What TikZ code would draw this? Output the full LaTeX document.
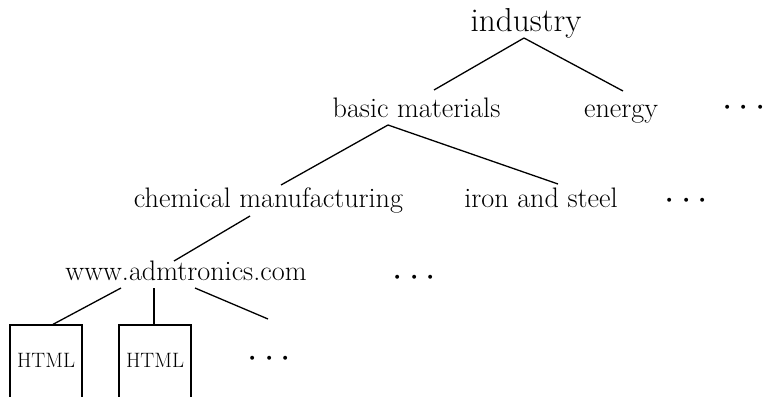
\RequirePackage{fix-cm}
\documentclass[tikz,border=0pt]{standalone}
\begin{document}
\begin{tikzpicture}[x=1pt,y=-1pt,line width=1.3pt,
  lbl/.style={inner sep=0pt,anchor=base,font=\fontsize{28.2}{32}\selectfont},
  toplbl/.style={lbl,font=\fontsize{33.2}{38}\selectfont},
  more/.style={inner sep=0pt,anchor=base,font=\fontsize{37}{40}\selectfont},
  page/.style={draw,rectangle,anchor=base,inner xsep=0pt,inner ysep=0pt,
    minimum width=72pt,text height=42pt,text depth=80pt,
    font=\fontsize{20.8}{24}\selectfont}]
\useasboundingbox (0,0) rectangle (765,396);
\begin{scope}
\clip (0,0) rectangle (765,396);
% nodes
\node[toplbl] (ind) at (526,32) {industry};
\node[lbl] (bm) at (416.5,117) {basic materials};
\node[lbl] (en) at (621,117) {energy};
\node[more] (d1) at (744,116.5) {$\cdots$};
\node[lbl] (chem) at (268.5,207) {chemical manufacturing};
\node[lbl] (iron) at (541,207) {iron and steel};
\node[more] (d2) at (686.5,209.5) {$\cdots$};
\node[lbl] (www) at (186,280) {www.admtronics.com};
\node[more] (d3) at (414.5,286.5) {$\cdots$};
\node[page] (h1) at (46,367) {HTML};
\node[page] (h2) at (155,367) {HTML};
\node[more] (d4) at (269.5,367.5) {$\cdots$};
\coordinate (wmore) at (268,319);
% connectors
\draw ([shift={(-2,6)}]ind.base) -- ([shift={(17.5,-27)}]bm.base);
\draw ([shift={(-2,6)}]ind.base) -- ([shift={(2,-26)}]en.base);
\draw ([shift={(-28.5,8)}]bm.base) -- ([shift={(12.5,-22)}]chem.base);
\draw ([shift={(-28.5,8)}]bm.base) -- ([shift={(17,-23)}]iron.base);
\draw ([shift={(-18.5,9)}]chem.base) -- ([shift={(-12,-19)}]www.base);
\draw ([shift={(-65,8)}]www.base) -- ([xshift=7pt]h1.north);
\draw ([shift={(-32,8)}]www.base) -- ([xshift=-1pt]h2.north);
\draw ([shift={(9,8)}]www.base) -- (wmore);
\end{scope}
\end{tikzpicture}
\end{document}
